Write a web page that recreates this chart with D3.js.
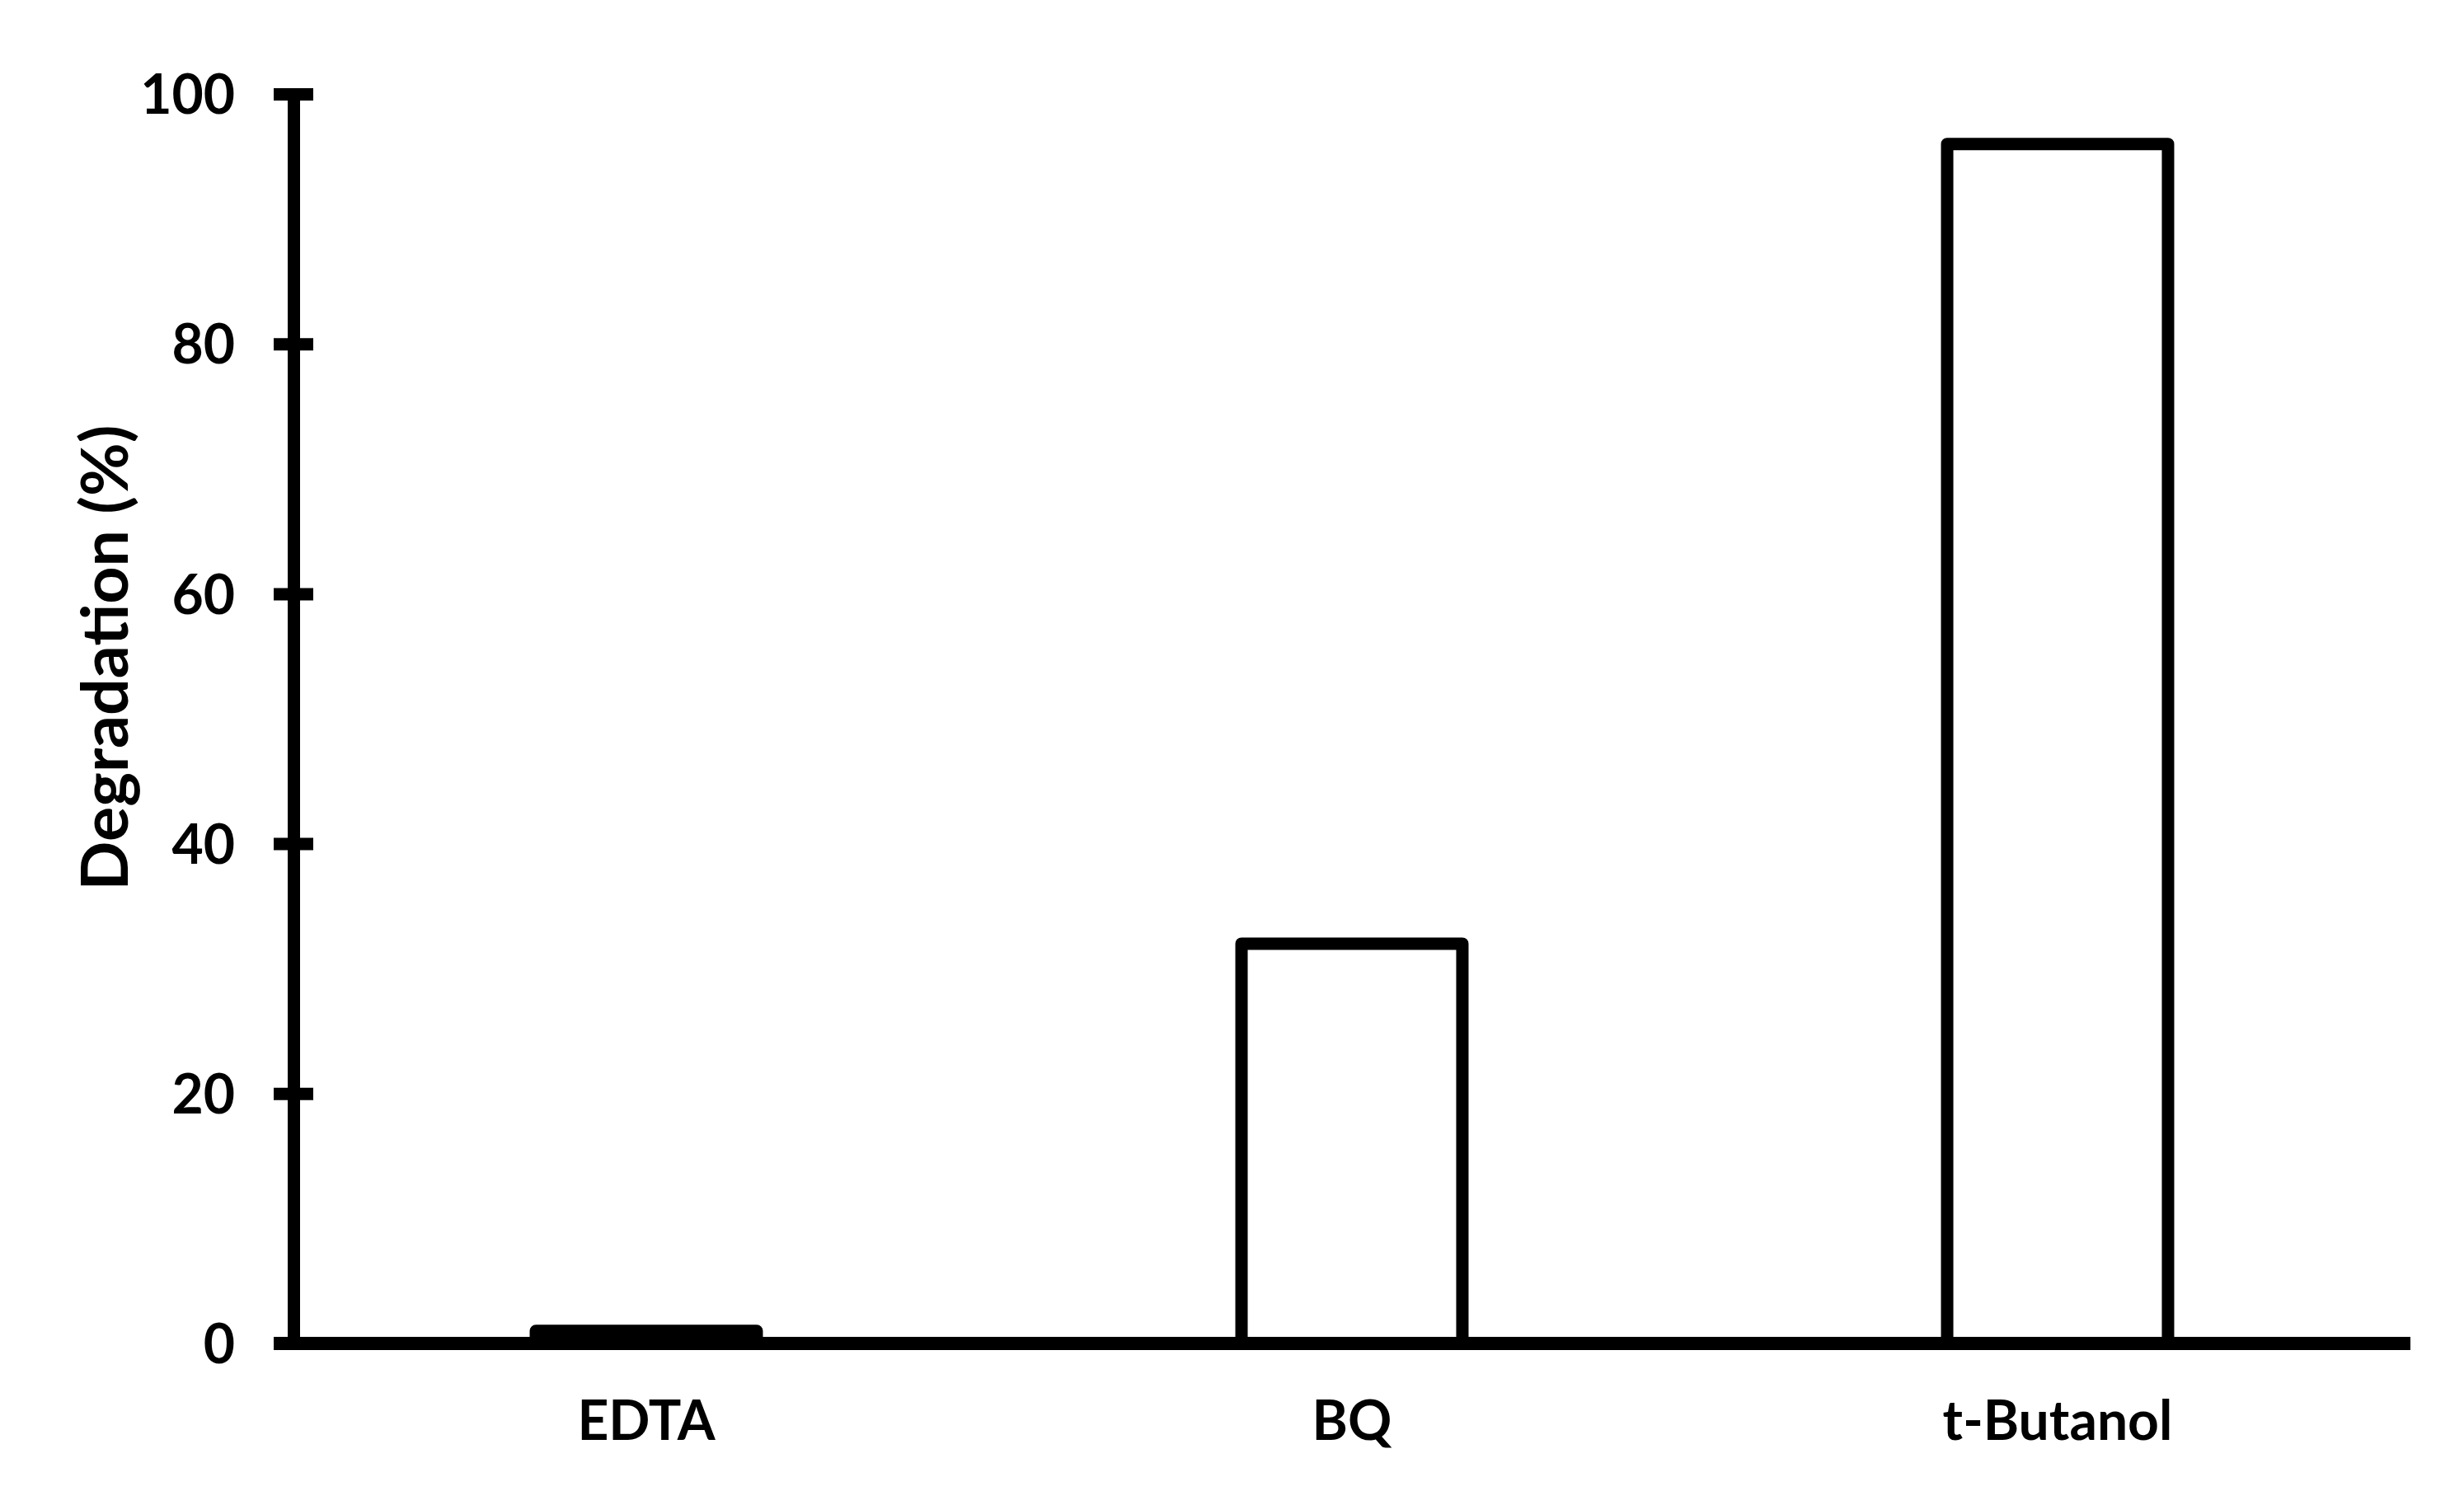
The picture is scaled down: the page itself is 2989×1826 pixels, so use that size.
<!DOCTYPE html>
<html>
<head>
<meta charset="utf-8">
<script src="https://cdn.jsdelivr.net/npm/d3@7"></script>
<style>
  body { margin: 0; background: #fff; }
  text { font-family: Lato, "Open Sans", sans-serif; font-weight: bold; fill: #000; }
</style>
</head>
<body>
<svg></svg>
<script>
const categories = ['EDTA', 'BQ', 't-Butanol'];
const degradation = [1, 32, 96];
const yTicks = [0, 20, 40, 60, 80, 100];

const width = 2989;
const height = 1826;

const svg = d3.select('svg')
  .attr('width', width)
  .attr('height', height);

const x = d3.scaleBand()
  .domain(categories)
  .range([356, 2924])
  .paddingInner(0.687)
  .paddingOuter(0.3435);

const y = d3.scaleLinear()
  .domain([0, 100])
  .range([1630, 114]);

// bars
svg.append('g')
  .selectAll('rect')
  .data(categories)
  .enter().append('rect')
    .attr('x', d => x(d))
    .attr('y', (d, i) => y(degradation[i]))
    .attr('width', x.bandwidth())
    .attr('height', (d, i) => y(0) - y(degradation[i]))
    .attr('fill', '#fff')
    .attr('stroke', '#000')
    .attr('stroke-width', 15)
    .attr('stroke-linejoin', 'round');

// y axis, ticks cross the line
const yAxis = svg.append('g')
  .attr('transform', `translate(${x.range()[0]},0)`)
  .call(d3.axisLeft(y).tickValues(yTicks).tickSizeInner(24).tickSizeOuter(0).tickPadding(47));

yAxis.select('.domain')
  .attr('stroke', '#000')
  .attr('stroke-width', 15)
  .attr('stroke-linecap', 'square');

yAxis.selectAll('.tick line')
  .attr('x1', 24)
  .attr('x2', -24)
  .attr('stroke', '#000')
  .attr('stroke-width', 15);

yAxis.selectAll('.tick text')
  .attr('dy', '0.36em')
  .style('font-size', '66px');

// x axis
const xAxis = svg.append('g')
  .attr('transform', `translate(0,${y(0)})`)
  .call(d3.axisBottom(x).tickSize(0).tickPadding(70));

xAxis.select('.domain').remove();

xAxis.append('line')
  .attr('x1', x.range()[0] - 24)
  .attr('x2', x.range()[1])
  .attr('stroke', '#000')
  .attr('stroke-width', 16);

xAxis.selectAll('.tick text')
  .attr('dy', '0.71em')
  .style('font-size', '66px');

// y title
svg.append('text')
  .attr('transform', 'translate(155,798) rotate(-90)')
  .attr('text-anchor', 'middle')
  .style('font-size', '79px')
  .text('Degradation (%)');
</script>
</body>
</html>
